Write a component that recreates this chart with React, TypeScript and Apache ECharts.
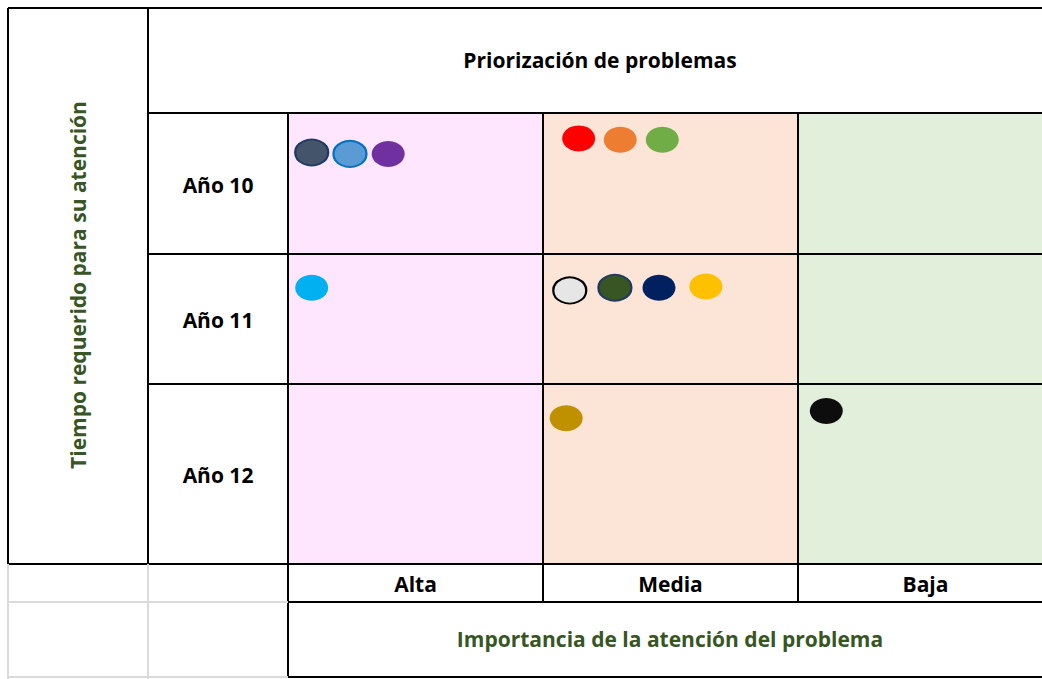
import React, { useEffect, useRef } from "react";
import * as echarts from "echarts";

const importanceLabels = ["Alta", "Media", "Baja"];
const yearLabels = ["Año 10", "Año 11", "Año 12"];
const columnColors = ["#FFE6FF", "#FCE4D6", "#E2EFDA"];

// each problem: importance column, year row, position inside its cell (fractions)
const problemImportance = [0, 0, 0, 1, 1, 1, 0, 1, 1, 1, 1, 1, 2];
const problemYear = [0, 0, 0, 0, 0, 0, 1, 1, 1, 1, 1, 2, 2];
const problemCellX = [0.093, 0.243, 0.393, 0.14, 0.303, 0.468, 0.093, 0.105, 0.282, 0.455, 0.639, 0.091, 0.111];
const problemCellY = [0.28, 0.29, 0.29, 0.18, 0.19, 0.19, 0.26, 0.28, 0.26, 0.26, 0.25, 0.19, 0.15];
const problemColors = ["#44546A", "#5B9BD5", "#7030A0", "#FF0000", "#ED7D31", "#70AD47", "#00B0F0", "#E7E6E6", "#375623", "#002060", "#FFC000", "#BF9000", "#0D0D0D"];
const problemBorders = ["#1F3864", "#0070C0", null, null, null, null, null, "#000000", "#203864", null, null, null, null];

const title = "Priorización de problemas";
const yTitle = "Tiempo requerido para su atención";
const xTitle = "Importancia de la atención del problema";

export default function App() {
  const ref = useRef<HTMLDivElement>(null);
  useEffect(() => {
    if (!ref.current) return;
    const chart = echarts.init(ref.current, null, { renderer: "svg" });

    const W = 1042;
    const colX = [288, 543, 798];
    const colW = 255;
    const rowTops = [113, 254, 384];
    const rowHs = [141, 130, 180];
    const xMax = (W - colX[0]) / colW;
    const font = "'Open Sans', 'Noto Sans', sans-serif";
    const green = "#375623";

    const grids: any[] = [];
    const xAxes: any[] = [];
    const yAxes: any[] = [];
    const series: any[] = [];
    yearLabels.forEach((_, r) => {
      grids.push({ left: colX[0], width: W - colX[0], top: rowTops[r], height: rowHs[r], containLabel: false });
      xAxes.push({ gridIndex: r, type: "value", min: 0, max: xMax, show: false });
      yAxes.push({ gridIndex: r, type: "value", min: 0, max: 1, inverse: true, show: false });
      const data: any[] = [];
      problemYear.forEach((y, i) => {
        if (y !== r) return;
        data.push({
          value: [problemImportance[i] + problemCellX[i], problemCellY[i]],
          itemStyle: {
            color: problemColors[i],
            opacity: 1,
            borderColor: problemBorders[i] || problemColors[i],
            borderWidth: problemBorders[i] ? 2 : 0,
          },
        });
      });
      series.push({
        type: "scatter",
        xAxisIndex: r,
        yAxisIndex: r,
        symbol: "circle",
        symbolSize: [33, 26],
        itemStyle: { opacity: 1 },
        data,
        z: 5,
        markArea: {
          silent: true,
          data: importanceLabels.map((_, c) => [
            { xAxis: c, yAxis: 0, itemStyle: { color: columnColors[c], opacity: 1 } },
            { xAxis: Math.min(c + 1, xMax), yAxis: 1 },
          ]),
        },
      });
    });

    const blk = { stroke: "#000", lineWidth: 2 };
    const gry = { stroke: "#DADADA", lineWidth: 2 };
    const L = (x1: number, y1: number, x2: number, y2: number, style: any) => ({
      type: "line",
      z: 100,
      shape: { x1, y1, x2, y2 },
      style,
      silent: true,
    });
    const lines: any[] = [
      L(8, 8, W, 8, blk),
      L(8, 8, 8, 564, blk),
      L(148, 8, 148, 564, blk),
      L(288, 113, 288, 677, blk),
      L(543, 113, 543, 602, blk),
      L(798, 113, 798, 602, blk),
      L(148, 113, W, 113, blk),
      L(148, 254, W, 254, blk),
      L(148, 384, W, 384, blk),
      L(8, 564, W, 564, blk),
      L(8, 564, 8, 679, gry),
      L(148, 564, 148, 679, gry),
      L(8, 602, 288, 602, gry),
      L(8, 677, 288, 677, gry),
      L(288, 602, W, 602, blk),
      L(288, 677, W, 677, blk),
    ];
    const T = (text: string, x: number, y: number, fill: string, size: number, extra: any = {}) => ({
      type: "text",
      z: 110,
      x,
      y,
      silent: true,
      style: {
        text,
        fill,
        font: `bold ${size}px ${font}`,
        textAlign: "center",
        textVerticalAlign: "middle",
        align: "center",
        verticalAlign: "middle",
      },
      ...extra,
    });
    const texts: any[] = [
      T(title, 600, 60, "#000", 21),
      T(yTitle, 78, 285, green, 21, { rotation: Math.PI / 2 }),
      T(xTitle, 670, 639, green, 21),
    ];
    yearLabels.forEach((lab, r) => texts.push(T(lab, 218, rowTops[r] + rowHs[r] / 2 + 1, "#000", 21)));
    importanceLabels.forEach((lab, c) => texts.push(T(lab, colX[c] + colW / 2, 584, "#000", 21)));

    chart.setOption({
      animation: false,
      backgroundColor: "#fff",
      grid: grids,
      xAxis: xAxes,
      yAxis: yAxes,
      series,
      graphic: { elements: [...lines, ...texts] },
    });
    return () => chart.dispose();
  }, []);
  return <div ref={ref} style={{ position: "absolute", left: 0, top: 0, width: 1042, height: 679 }} />;
}
